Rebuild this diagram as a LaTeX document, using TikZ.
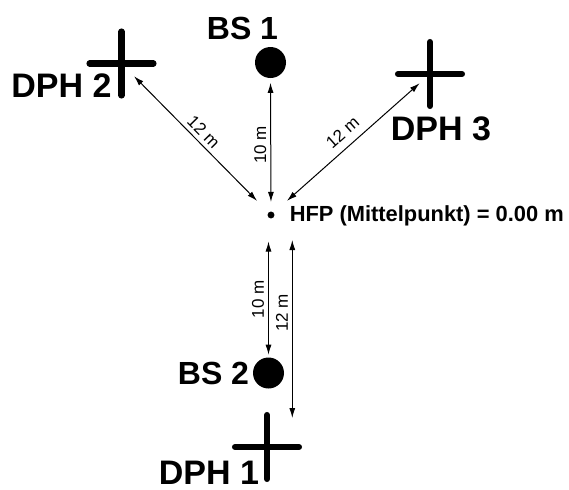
\documentclass[tikz,border=0pt]{standalone}
\usepackage{fontspec}
\setmainfont{Liberation Sans}
\usetikzlibrary{arrows.meta,shapes.misc}
\begin{document}
\begin{tikzpicture}[x=0.75pt,y=-0.75pt,
  bsdot/.style={circle,fill=black,minimum size=23.25pt,inner sep=0pt},
  ctr/.style={circle,fill=black,minimum size=5.2pt,inner sep=0pt},
  dph/.style={cross out,draw=black,line width=4.8pt,line cap=round,minimum size=29pt,inner sep=0pt,rotate=45},
  bslab/.style={font=\bfseries\fontsize{24}{28}\selectfont,inner sep=0pt},
  dphlab/.style={font=\bfseries\fontsize{25.5}{30}\selectfont,inner sep=0pt},
  dist/.style={<->,>={Latex[length=7.5pt,width=4.5pt]},line width=0.75pt},
  dlab/.style={font=\fontsize{12.75}{14}\selectfont,inner sep=3pt}
]
\useasboundingbox (0,0) rectangle (569,490);

% points
\node[ctr] (hfp) at (271,215) {};
\node[bsdot] (bs1) at (270.5,62.5) {};
\node[bsdot] (bs2) at (268.5,373) {};
\node[dph] (dph2) at (121.5,63.5) {};
\node[dph] (dph3) at (430,74) {};
\node[dph] (dph1) at (267,447) {};

% labels
\node[bslab] (lbs1) at (242.5,28) {BS 1};
\node[bslab] (lbs2) at (213.5,373) {BS 2};
\node[dphlab] (ldph2) at (61.5,86) {DPH 2};
\node[dphlab] (ldph3) at (441,129) {DPH 3};
\node[dphlab] (ldph1) at (209,472.5) {DPH 1};
\node[font=\bfseries\fontsize{16.4}{19}\selectfont,anchor=base west,inner sep=0pt] (lhfp) at (289.5,221) {HFP (Mittelpunkt) = 0.00 m};

% connectors
\draw[dist,shorten <=7pt,shorten >=3.4pt] (hfp.north) -- (bs1.south)
  node[dlab,pos=0.5,rotate=90,anchor=south] {10 m};
\draw[dist,shorten <=14.9pt,shorten >=13.4pt] (hfp.center) -- (dph2.center)
  node[dlab,pos=0.5,rotate=-45.4,anchor=south] {12 m};
\draw[dist,shorten <=16pt,shorten >=10.4pt] (hfp.center) -- (dph3.center)
  node[dlab,pos=0.51,rotate=41.6,anchor=south,inner sep=6pt] {12 m};

\coordinate (a2) at (268.5,241.5);
\draw[dist,shorten >=1.9pt] (a2) -- (bs2.north)
  node[dlab,pos=0.5,rotate=90,anchor=south] {10 m};
\coordinate (a3) at (292.3,240);
\coordinate (b3) at (292.3,418);
\draw[dist] (a3) -- (b3)
  node[dlab,pos=0.41,rotate=90,anchor=south] {12 m};
\end{tikzpicture}
\end{document}
